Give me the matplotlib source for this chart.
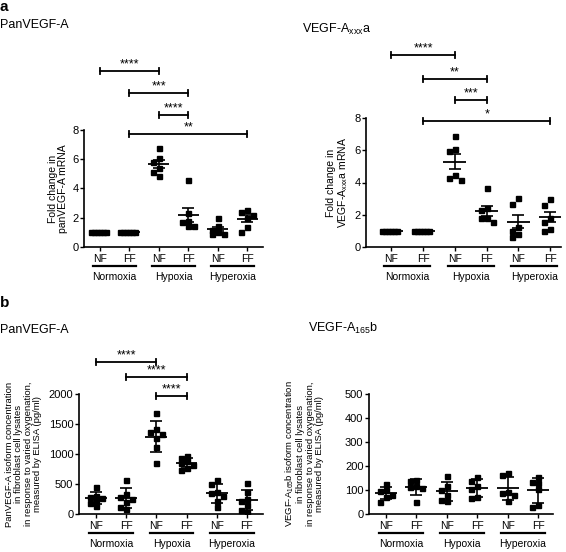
import numpy as np
import matplotlib
matplotlib.use("Agg")
import matplotlib.pyplot as plt
from matplotlib.lines import Line2D
from matplotlib.transforms import offset_copy

plt.rcParams["font.family"] = ["Liberation Sans", "DejaVu Sans"]
plt.rcParams["mathtext.default"] = "regular"

# ---------------------------------------------------------
# data
# ---------------------------------------------------------
conditions = ["NF", "FF", "NF", "FF", "NF", "FF"]
groups = ["Normoxia", "Hypoxia", "Hyperoxia"]

# a) fold change in mRNA, mean +/- SEM
pan_mrna = [
    [1.0, 1.0, 1.0, 1.0, 1.0, 1.0],
    [1.0, 1.0, 1.0, 1.0, 1.0, 1.0],
    [6.74, 6.06, 5.83, 5.4, 5.14, 4.85],
    [4.55, 2.35, 1.75, 1.7, 1.45, 1.45],
    [1.95, 1.45, 1.15, 1.05, 0.9, 0.9],
    [2.55, 2.4, 2.2, 2.0, 1.35, 1.05],
]
xxx_mrna = [
    [1.0, 1.0, 1.0, 1.0, 1.0, 1.0],
    [1.0, 1.0, 1.0, 1.0, 1.0, 1.0],
    [6.9, 6.06, 5.96, 4.44, 4.27, 4.17],
    [3.68, 2.42, 2.27, 1.81, 1.81, 1.54],
    [3.01, 2.69, 1.26, 1.01, 0.8, 0.65],
    [2.95, 2.63, 1.81, 1.58, 1.12, 1.01],
]

# b) ELISA concentration (pg/ml), mean +/- SD
pan_elisa = [
    [445, 300, 280, 260, 240, 180, 135],
    [567, 340, 290, 250, 200, 120, 80],
    [1690, 1420, 1360, 1330, 1260, 1120, 845],
    [975, 940, 880, 845, 810, 760, 730],
    [575, 500, 370, 345, 300, 220, 110],
    [510, 370, 245, 220, 150, 70, 30],
]
b165_elisa = [
    [124, 100, 96, 79, 69, 51],
    [142, 139, 117, 114, 110, 49],
    [158, 115, 100, 80, 60, 55],
    [156, 139, 117, 103, 69, 65],
    [170, 162, 93, 86, 79, 54],
    [156, 135, 128, 103, 38, 28],
]

# significance brackets: (from, to, height, stars)
sig_pan_mrna = [(0, 2, 12.0, "****"), (1, 3, 10.5, "***"), (2, 3, 9.05, "****"), (1, 5, 7.7, "**")]
sig_xxx_mrna = [(0, 2, 11.9, "****"), (1, 3, 10.4, "**"), (2, 3, 9.1, "***"), (1, 5, 7.8, "*")]
sig_pan_elisa = [(0, 2, 2530, "****"), (1, 3, 2280, "****"), (2, 3, 1970, "****")]


# ---------------------------------------------------------
# helpers
# ---------------------------------------------------------
def swarm_offsets(ax, values, sep_px=5.5, step_px=3.0, max_k=3):
    """greedy horizontal spreading of points that overlap"""
    y0, y1 = ax.get_ylim()
    vals_px = np.asarray(values, dtype=float) / (y1 - y0) * ax.bbox.height
    x0, x1 = ax.get_xlim()
    px_per_cat = ax.bbox.width / (x1 - x0)
    cands = [0]
    for k in range(1, max_k + 1):
        cands += [-k, k]
    placed = []
    offs = []
    for v in vals_px:
        best, best_d = 0.0, -1.0
        for c in cands:
            dx = c * step_px
            d = min([max(abs(dx - px), abs(v - py)) for px, py in placed] or [99])
            if d >= sep_px:
                best = dx
                break
            if d > best_d:
                best, best_d = dx, d
        placed.append((best, v))
        offs.append(best / px_per_cat)
    return np.array(offs)


def scatter_panel(ax, data, err="sem"):
    for i, vals in enumerate(data):
        vals = np.asarray(vals, dtype=float)
        xs = i + swarm_offsets(ax, vals)
        ax.plot(xs, vals, "s", color="black", markersize=3.6, zorder=3)
        m = vals.mean()
        if err == "sem":
            e = vals.std(ddof=1) / np.sqrt(len(vals))
        else:
            e = vals.std(ddof=1)
        ax.hlines(m, i - 0.36, i + 0.36, color="black", lw=1.3, zorder=4)
        if e > 0:
            ax.errorbar(i, m, yerr=e, fmt="none", ecolor="black", elinewidth=1.2,
                        capsize=4.2, capthick=1.2, zorder=4)


def brackets(ax, sigs):
    y0, y1 = ax.get_ylim()
    cap = 3.0 / ax.bbox.height * (y1 - y0)
    for i, j, h, lab in sigs:
        ax.plot([i, j], [h, h], color="black", lw=1.3, clip_on=False)
        for k in (i, j):
            ax.plot([k, k], [h - cap, h + cap], color="black", lw=1.3, clip_on=False)
        ax.annotate(lab, xy=((i + j) / 2, h), xytext=(0, 0.5), textcoords="offset points",
                    ha="center", va="bottom", fontsize=9, annotation_clip=False)


def style_axes(ax, xlim, ylim, yticks):
    ax.set_xlim(*xlim)
    ax.set_ylim(*ylim)
    ax.set_yticks(yticks)
    ax.set_xticks(range(len(conditions)))
    ax.set_xticklabels(conditions, fontsize=7.5)
    ax.tick_params(axis="y", labelsize=8, length=3, width=1, pad=1)
    ax.tick_params(axis="x", length=3, width=1, pad=2)
    for s in ("top", "right"):
        ax.spines[s].set_visible(False)
    for s in ("left", "bottom"):
        ax.spines[s].set_linewidth(1.2)


def group_labels(ax, fig):
    line_tr = offset_copy(ax.get_xaxis_transform(), fig=fig, y=-19, units="dots")
    for g, name in enumerate(groups):
        c = 2 * g + 0.5
        ax.add_line(Line2D([c - 0.72, c + 0.72], [0, 0], transform=line_tr,
                           color="black", lw=1.6, clip_on=False))
        ax.annotate(name, xy=(c, 0), xycoords=ax.get_xaxis_transform(),
                    xytext=(0, -21.5), textcoords="offset points",
                    ha="center", va="center", fontsize=7.5, annotation_clip=False)


# ---------------------------------------------------------
# figure
# ---------------------------------------------------------
fig = plt.figure(figsize=(5.66, 5.52), dpi=100)

ax1 = fig.add_axes([84 / 566, 1 - 247 / 552, 179 / 566, 117 / 552])
ax2 = fig.add_axes([366 / 566, 1 - 247 / 552, 195 / 566, 129 / 552])
ax3 = fig.add_axes([79 / 566, 1 - 514 / 552, 184 / 566, 120 / 552])
ax4 = fig.add_axes([369 / 566, 1 - 514 / 552, 184 / 566, 120 / 552])

style_axes(ax1, (-0.54, 5.54), (0, 8), [0, 2, 4, 6, 8])
style_axes(ax2, (-0.8, 5.34), (0, 8), [0, 2, 4, 6, 8])
style_axes(ax3, (-0.56, 5.53), (0, 2000), [0, 500, 1000, 1500, 2000])
style_axes(ax4, (-0.56, 5.49), (0, 500), [0, 100, 200, 300, 400, 500])

scatter_panel(ax1, pan_mrna, "sem")
scatter_panel(ax2, xxx_mrna, "sem")
scatter_panel(ax3, pan_elisa, "sd")
scatter_panel(ax4, b165_elisa, "sd")

brackets(ax1, sig_pan_mrna)
brackets(ax2, sig_xxx_mrna)
brackets(ax3, sig_pan_elisa)

for ax in (ax1, ax2, ax3, ax4):
    group_labels(ax, fig)

ax1.set_ylabel("Fold change in\npanVEGF-A mRNA", fontsize=7.5, labelpad=3, linespacing=1.05)
ax2.set_ylabel("Fold change in\nVEGF-A$_{xxx}$a mRNA", fontsize=7.5, labelpad=3, linespacing=1.05)
ax3.set_ylabel("PanVEGF-A isoform concentration\nin fibroblast cell lysates\n"
               "in response to varied oxygenation,\nmeasured by ELISA (pg/ml)",
               fontsize=6.8, labelpad=5, linespacing=1.05)
ax4.set_ylabel("VEGF-A$_{165}$b isoform concentration\nin fibroblast cell lysates\n"
               "in response to varied oxygenation,\nmeasured by ELISA (pg/ml)",
               fontsize=6.8, labelpad=15, linespacing=1.05)

# panel letters and titles
fig.text(0.0, 1 - 7 / 552, "a", fontsize=11, fontweight="bold", va="center", ha="left")
fig.text(0.0, 1 - 25 / 552, "PanVEGF-A", fontsize=9, va="center", ha="left")
fig.text(302 / 566, 1 - 29 / 552, "VEGF-A$_{xxx}$a", fontsize=9, va="center", ha="left")
fig.text(0.0, 1 - 303 / 552, "b", fontsize=11, fontweight="bold", va="center", ha="left")
fig.text(0.0, 1 - 330 / 552, "PanVEGF-A", fontsize=9, va="center", ha="left")
fig.text(308 / 566, 1 - 328 / 552, "VEGF-A$_{165}$b", fontsize=9, va="center", ha="left")

fig.savefig("out.png", dpi=100)
